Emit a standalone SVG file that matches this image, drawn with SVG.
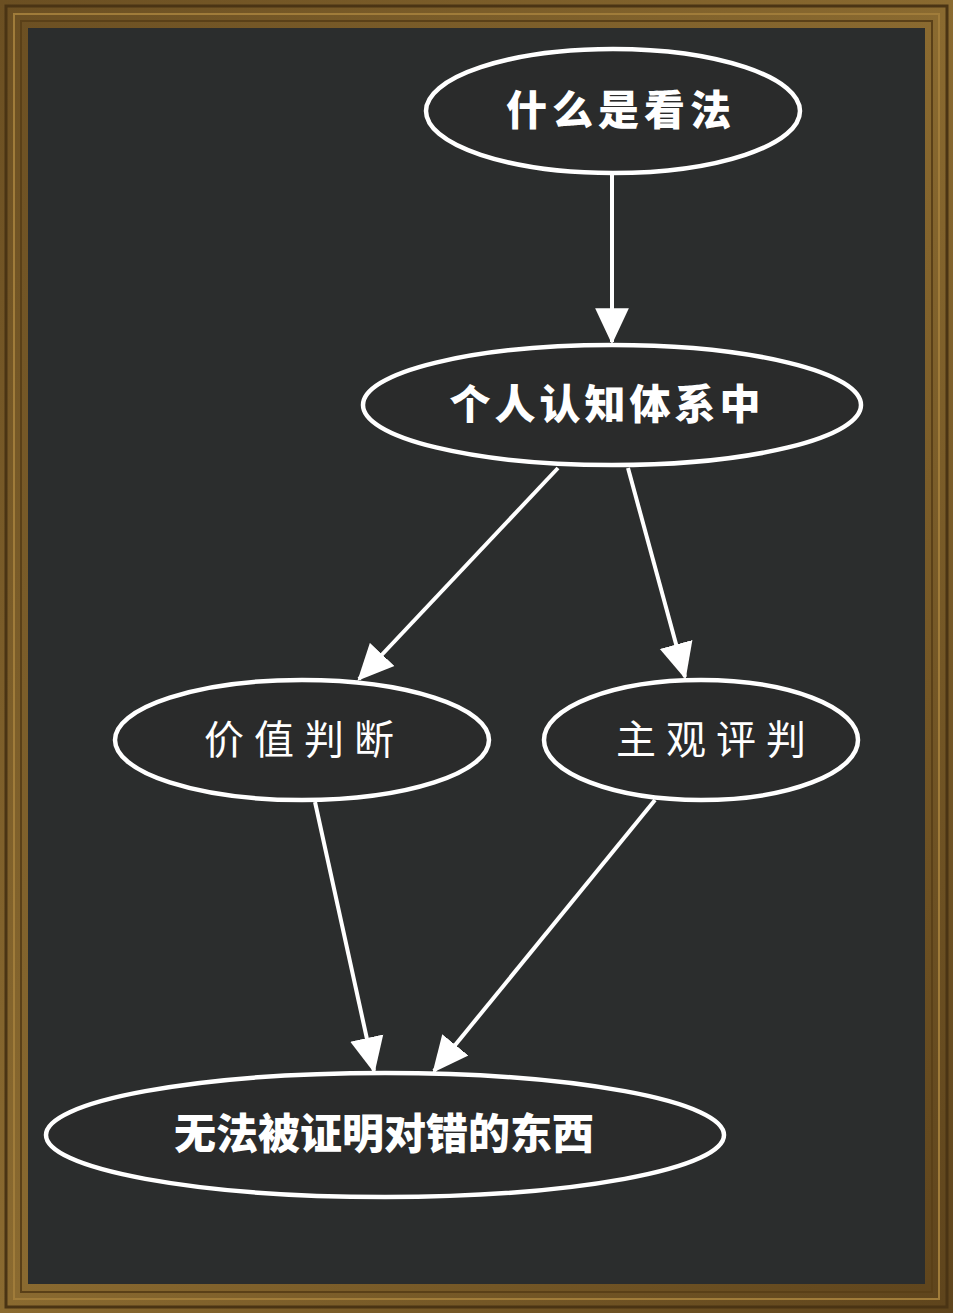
<svg xmlns="http://www.w3.org/2000/svg" width="953" height="1313" viewBox="0 0 953 1313">
<defs>
<style>
.node ellipse{fill:#2a2b2b;stroke:#ffffff;stroke-width:4.5}
.bold{font-family:"Noto Sans CJK SC","Noto Sans",sans-serif;font-weight:900;fill:#ffffff;text-anchor:middle}
.reg{font-family:"Noto Sans CJK SC","Noto Sans",sans-serif;font-weight:400;fill:#ffffff;text-anchor:middle}
.edge{stroke:#ffffff;stroke-width:4;fill:none;marker-end:url(#arr)}
</style>
<marker id="arr" markerWidth="9" markerHeight="9" refX="7.5" refY="3.75" orient="auto" markerUnits="strokeWidth" viewBox="0 0 8 7.5">
<path d="M0,0 L8,3.75 L0,7.5 Z" fill="#ffffff"/>
</marker>
<linearGradient id="wood" x1="0" y1="0" x2="1" y2="1">
<stop offset="0" stop-color="#6b4f22"/>
<stop offset="0.5" stop-color="#8a6a30"/>
<stop offset="1" stop-color="#5e441c"/>
</linearGradient>
</defs>
<g id="frame">
<rect x="0" y="0" width="953" height="1313" fill="url(#wood)"/>
<rect x="6" y="6" width="941" height="1301" fill="none" stroke="#4a3414" stroke-width="3"/>
<rect x="14" y="14" width="925" height="1285" fill="none" stroke="#a07c3a" stroke-width="2"/>
<rect x="21" y="21" width="911" height="1271" fill="none" stroke="#5a4018" stroke-width="2"/>
<rect x="28" y="28" width="897" height="1256" fill="#2b2d2d"/>
</g>
<g id="connectors">
<line class="edge" x1="612" y1="173" x2="612" y2="342"/>
<line class="edge" x1="558" y1="468" x2="359" y2="679"/>
<line class="edge" x1="628" y1="468" x2="685" y2="677"/>
<line class="edge" x1="315" y1="802" x2="374" y2="1071"/>
<line class="edge" x1="655" y1="800" x2="434" y2="1071"/>
</g>
<g id="n1" class="node">
<ellipse cx="613" cy="111" rx="187" ry="62"/>
<text class="bold" x="621" y="125" font-size="41" letter-spacing="5">什么是看法</text>
</g>
<g id="n2" class="node">
<ellipse cx="612" cy="405" rx="249" ry="60"/>
<text class="bold" x="607" y="419" font-size="41" letter-spacing="4">个人认知体系中</text>
</g>
<g id="n3" class="node">
<ellipse cx="302" cy="740" rx="187" ry="60"/>
<text class="reg" x="304" y="754" font-size="40" letter-spacing="10">价值判断</text>
</g>
<g id="n4" class="node">
<ellipse cx="701" cy="740" rx="157" ry="60"/>
<text class="reg" x="716" y="754" font-size="40" letter-spacing="10">主观评判</text>
</g>
<g id="n5" class="node">
<ellipse cx="385" cy="1135" rx="339" ry="62"/>
<text class="bold" x="384" y="1149" font-size="42">无法被证明对错的东西</text>
</g>
</svg>
